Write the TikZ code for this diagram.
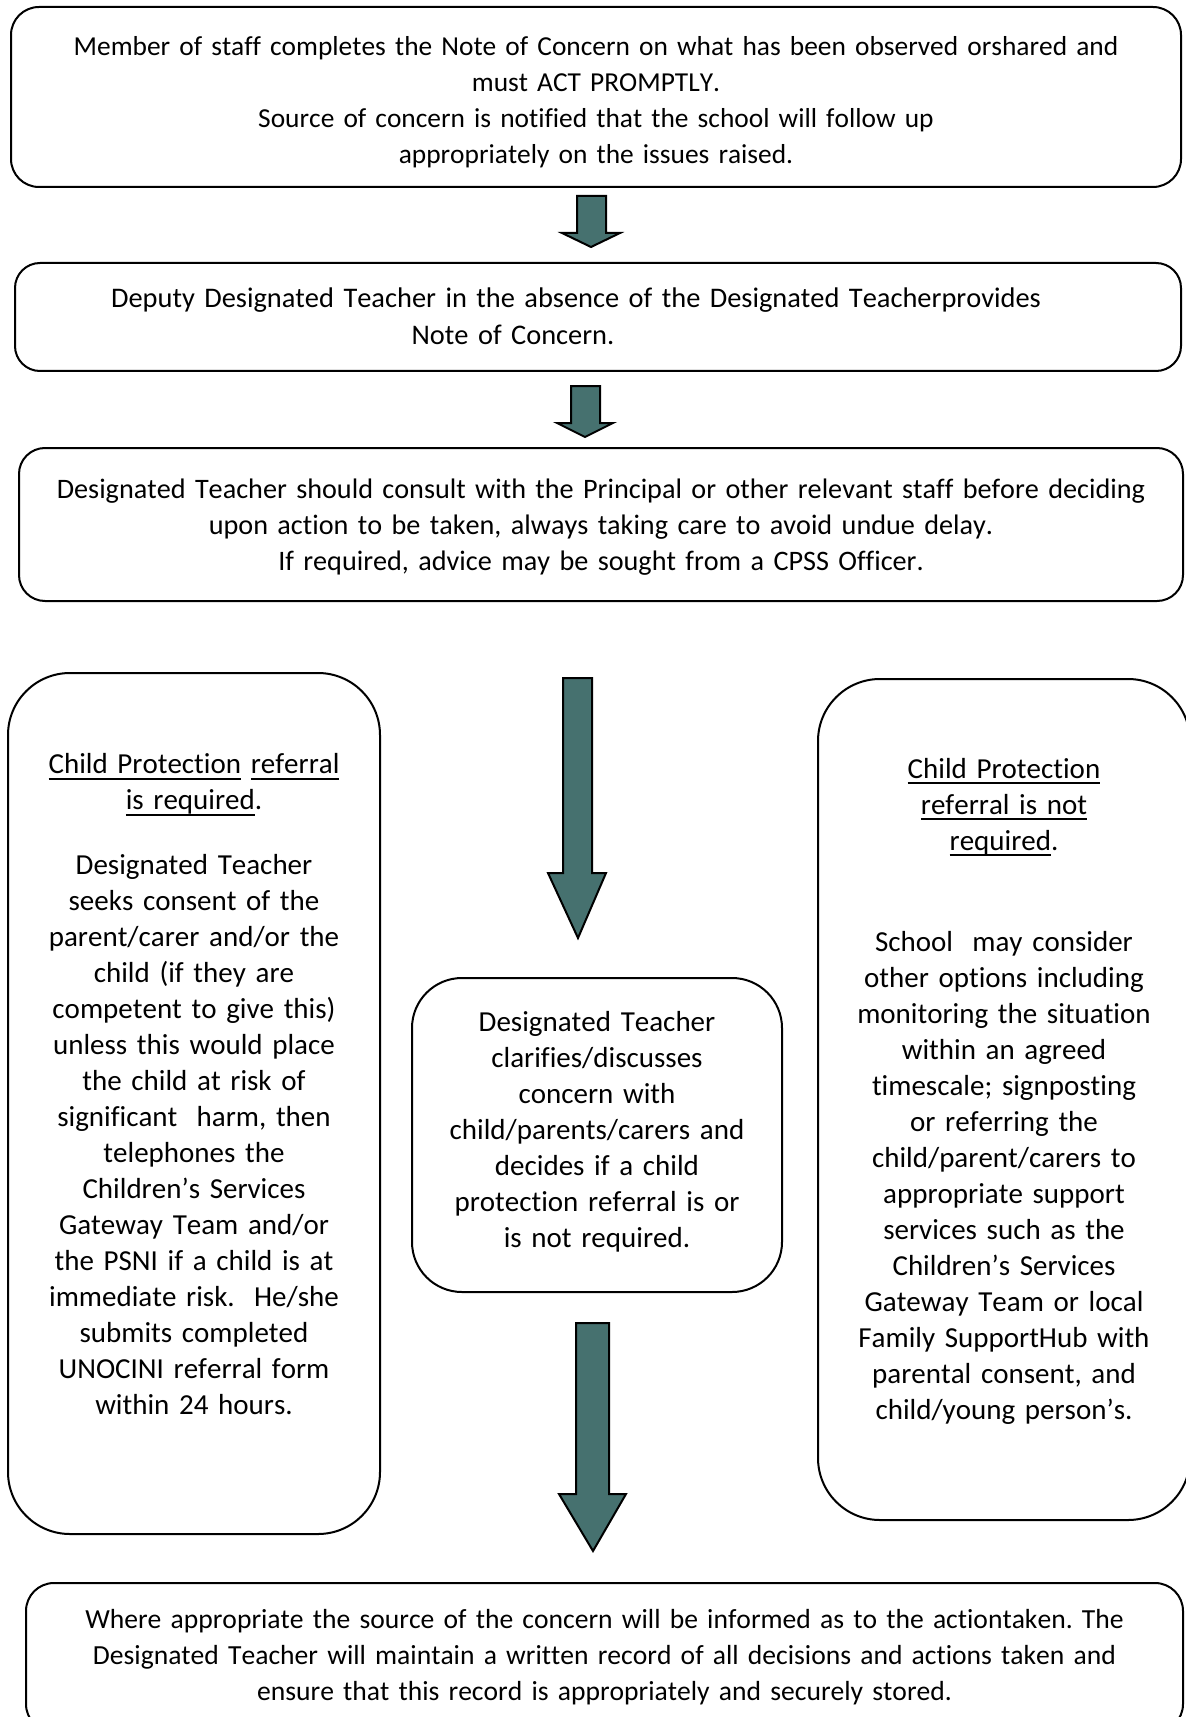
\documentclass[tikz,border=0pt]{standalone}
\usepackage{fontspec}
\setmainfont{Carlito}[Kerning=Off, Ligatures=NoCommon]
\definecolor{arrowfill}{RGB}{70,113,111}
\newcommand{\undl}[1]{\leavevmode\setbox0\hbox{#1}\rlap{\rule[-3pt]{\wd0}{0.9pt}}\box0\relax}
\tikzstyle{box} = [draw, line width=1pt, inner sep=0pt, align=center, font=\fontsize{14}{18}\selectfont\frenchspacing]
\tikzstyle{narrowbox} = [box, rounded corners=31pt, minimum width=186pt, text width=180pt, font=\fontsize{14.5}{18}\selectfont\frenchspacing]
\tikzstyle{fatarrow} = [draw, line width=1pt, fill=arrowfill, line join=miter]

\begin{document}
\begin{tikzpicture}[x=0.5pt, y=-0.5pt]
    \useasboundingbox (0,0) rectangle (1185,1717);
    \node [box, rounded corners=14pt, minimum width=585pt, minimum height=90pt, text width=570pt, font=\fontsize{13.7}{18}\selectfont\frenchspacing] at (596,97) (note) {\rule{0pt}{18pt}Member of staff completes the Note of Concern on what has been observed orshared and\\ must ACT PROMPTLY.\\ Source of concern is notified that the school will follow up\\ appropriately on the issues raised.\rule[-5pt]{0pt}{0pt}};
    \node [box, rounded corners=12.5pt, minimum width=583pt, minimum height=54pt, text width=570pt, font=\fontsize{14.2}{18}\selectfont\frenchspacing] at (598,317) (deputy) {\rule{0pt}{16pt}Deputy Designated Teacher in the absence of the Designated Teacherprovides\rule{22pt}{0pt}\\ Note of Concern.\rule[-7pt]{85pt}{0pt}};
    \node [box, rounded corners=13pt, minimum width=582pt, minimum height=76.5pt, text width=570pt, font=\fontsize{14.1}{18}\selectfont\frenchspacing] at (601,524.5) (consult) {\rule{0pt}{16.5pt}Designated Teacher should consult with the Principal or other relevant staff before deciding\\ upon action to be taken, always taking care to avoid undue delay.\\ If required, advice may be sought from a CPSS Officer.\rule[-7pt]{0pt}{0pt}};
    \node [narrowbox, minimum height=430.5pt] at (194,1103.5) (required) {\rule{0pt}{16pt}\undl{Child Protection} \undl{referral}\\ \undl{is required}.\\[14.5pt] Designated Teacher\\ seeks consent of the\\ parent/carer and/or the\\ child (if they are\\ competent to give this)\\ unless this would place\\ the child at risk of\\ significant\ \ harm, then\\ telephones the\\ Children’s Services\\ Gateway Team and/or\\ the PSNI if a child is at\\ immediate risk.\ \ He/she\\ submits completed\\ UNOCINI referral form\\ within 24 hours.\rule[-25.5pt]{0pt}{0pt}};
    \node [narrowbox, rounded corners=25pt, minimum width=185pt, minimum height=157pt] at (597,1135) (clarify) {\rule{0pt}{14pt}Designated Teacher\\ clarifies/discusses\\ concern with\\ child/parents/carers and\\ decides if a child\\ protection referral is or\\ is not required.\rule[-10pt]{0pt}{0pt}};
    \node [narrowbox, minimum height=420.5pt] at (1004,1099.5) (notrequired) {\rule{0pt}{16pt}\undl{Child Protection}\\ \undl{referral is not}\\ \undl{required}.\\[32.5pt] School\ \ may consider\\ other options including\\ monitoring the situation\\ within an agreed\\ timescale; signposting\\ or referring the\\ child/parent/carers to\\ appropriate support\\ services such as the\\ Children’s Services\\ Gateway Team or local\\ Family SupportHub with\\ parental consent, and\\ child/young person’s.\rule[-17pt]{0pt}{0pt}};
    \node [box, rounded corners=14pt, minimum width=578.5pt, minimum height=74.5pt, text width=570pt, font=\fontsize{13.8}{18}\selectfont\frenchspacing] at (604.5,1657.5) (record) {\rule{0pt}{13pt}Where appropriate the source of the concern will be informed as to the actiontaken. The\\ Designated Teacher will maintain a written record of all decisions and actions taken and\\ ensure that this record is appropriately and securely stored.\rule[-6.5pt]{0pt}{0pt}};
    % block arrows
    \draw [fatarrow] (577,196) -- (606,196) -- (606,233) -- (620,233) -- (591,247) -- (562,233) -- (577,233) -- cycle;
    \draw [fatarrow] (571,386) -- (600,386) -- (600,423) -- (613,423) -- (585,437) -- (557,423) -- (571,423) -- cycle;
    \draw [fatarrow] (563,678) -- (592,678) -- (592,873) -- (606,873) -- (578,938) -- (548,873) -- (563,873) -- cycle;
    \draw [fatarrow] (576,1323) -- (609,1323) -- (609,1494) -- (626,1494) -- (593,1551) -- (559,1494) -- (576,1494) -- cycle;
\end{tikzpicture}
\end{document}
